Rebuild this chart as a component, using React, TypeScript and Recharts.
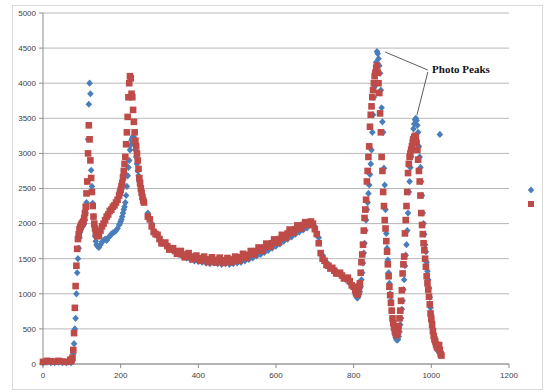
import React from "react";
import {
  ScatterChart, Scatter, XAxis, YAxis, CartesianGrid, ReferenceLine, ReferenceDot,
} from "recharts";

// channel positions, split by how dense the sampling is
const xsFlat = [0, 10, 20, 30, 40, 50, 60, 70];
const redFlat = [30, 45, 40, 35, 45, 35, 30, 60];
const blueFlat = [15, 25, 20, 20, 25, 20, 20, 30];

const xsRise = [72, 74, 76, 78, 80, 82, 84, 86, 88, 90, 92, 94, 96, 98, 100, 102, 104, 106, 108, 110,
  112, 114, 116, 118, 120, 122, 124, 126, 128, 130, 132, 134, 136, 138, 140];
const redRise = [40, 60, 90, 200, 440, 800, 1110, 1400, 1640, 1780, 1850, 1920, 1950, 1980, 2000, 2010, 2030, 2080, 2150, 2240,
  2430, 2600, 3000, 3400, 3200, 2900, 2650, 2450, 2250, 2100, 2000, 1930, 1880, 1840, 1820];
const blueRise = [20, 30, 60, 150, 290, 500, 650, 1000, 1300, 1500, 1650, 1800, 1880, 1920, 1950, 1960, 1980, 2000, 2050, 2150,
  2300, 2600, 3200, 3700, 4000, 3850, 2760, 2530, 2290, 2100, 1950, 1820, 1750, 1700, 1680];

const xsBack = [144, 148, 152, 156, 160, 164, 168, 172, 176, 180, 184, 188, 192];
const redBack = [1830, 1900, 1960, 2000, 2050, 2100, 2130, 2180, 2200, 2240, 2260, 2300, 2340];
const blueBack = [1660, 1700, 1740, 1760, 1780, 1760, 1800, 1820, 1850, 1870, 1880, 1900, 1930];

const xsPeak = [196, 198, 200, 202, 204, 206, 208, 210, 212, 214, 216, 218, 220, 222, 224, 226, 228, 230, 232, 234,
  236, 238, 240, 242, 244, 246, 248, 250, 252, 254, 256, 258, 260];
const redPeak = [2400, 2440, 2480, 2530, 2580, 2660, 2750, 2850, 2950, 3130, 3300, 3520, 3800, 4000, 4100, 4070, 3850, 3800, 3620, 3450,
  3300, 3180, 3100, 3000, 2900, 2780, 2650, 2580, 2500, 2440, 2380, 2330, 2300];
const bluePeak = [1980, 2000, 2030, 2060, 2100, 2150, 2200, 2240, 2300, 2400, 2530, 2680, 2800, 2900, 3050, 3120, 3190, 3220, 3240, 3230,
  3200, 3050, 2950, 2850, 2750, 2680, 2600, 2540, 2480, 2440, 2400, 2360, 2320];

const xsMid = [270, 280, 290, 300, 310, 320, 330, 340, 350, 360, 370, 380, 390, 400, 410, 420, 430, 440, 450, 460,
  470, 480, 490, 500, 510, 520, 530, 540, 550, 560, 570, 580, 590, 600, 610, 620, 630, 640, 650, 660,
  670, 680, 690, 700, 710, 720, 730, 740, 750, 760, 770, 780, 790, 800];
const redMid = [2100, 1960, 1850, 1780, 1720, 1680, 1640, 1610, 1590, 1560, 1550, 1530, 1510, 1505, 1500, 1490, 1480, 1485, 1475, 1480,
  1470, 1480, 1490, 1495, 1520, 1540, 1555, 1580, 1610, 1630, 1660, 1690, 1720, 1750, 1780, 1820, 1860, 1890, 1920, 1950,
  1980, 2000, 2030, 1920, 1720, 1500, 1410, 1360, 1330, 1290, 1260, 1220, 1180, 1100];
const blueMid = [2150, 2000, 1880, 1800, 1730, 1680, 1640, 1600, 1560, 1530, 1510, 1490, 1470, 1460, 1450, 1440, 1430, 1440, 1430, 1420,
  1430, 1420, 1430, 1440, 1450, 1470, 1490, 1510, 1540, 1560, 1590, 1620, 1650, 1680, 1710, 1750, 1780, 1810, 1850, 1880,
  1910, 1940, 1980, 1960, 1800, 1550, 1450, 1380, 1340, 1300, 1250, 1200, 1150, 1080];

// in-between red channels (the band is noisy)
const xsMidOdd = [275, 285, 295, 305, 315, 325, 335, 345, 355, 365, 375, 385, 395, 405, 415, 425, 435, 445, 455, 465,
  475, 485, 495, 505, 515, 525, 535, 545, 555, 565, 575, 585, 595, 605, 615, 625, 635, 645, 655, 665,
  675, 685, 695, 705, 715, 725, 735, 745, 755, 765, 775, 785, 795];
const redMidOdd = [2060, 1880, 1840, 1720, 1730, 1630, 1650, 1570, 1610, 1520, 1580, 1490, 1545, 1470, 1530, 1450, 1520, 1445, 1515, 1440,
  1510, 1450, 1530, 1470, 1570, 1510, 1610, 1560, 1660, 1610, 1715, 1670, 1775, 1730, 1840, 1800, 1915, 1870, 1975, 1930,
  2020, 1980, 2000, 1850, 1580, 1470, 1400, 1370, 1290, 1300, 1220, 1230, 1120];

const xsPeaks = [804, 806, 808, 810, 812, 814, 816, 818, 820, 822,
  824, 826, 828, 830, 832, 834, 836, 838, 840, 842,
  844, 846, 848, 850, 852, 854, 856, 858, 860, 862,
  864, 866, 868, 870, 872, 874, 876, 878, 880, 882,
  884, 886, 888, 890, 892, 894, 896, 898, 900, 902,
  904, 906, 908, 910, 912, 914, 916, 918, 920, 922,
  924, 926, 928, 930, 932, 934, 936, 938, 940, 942,
  944, 946, 948, 950, 952, 954, 956, 958, 960, 962,
  964, 966, 968, 970, 972, 974, 976, 978, 980, 982,
  984, 986, 988, 990, 992, 994, 996, 998, 1000, 1002,
  1004, 1006, 1008, 1010, 1012, 1014, 1016, 1018, 1020, 1022,
  1024, 1026];
const redPeaks = [1050, 1020, 1000, 990, 1030, 1100, 1150, 1300, 1450, 1560,
  1700, 1900, 2080, 2200, 2340, 2600, 2750, 2950, 3100, 3380,
  3550, 3670, 3800, 3900, 4000, 4100, 4150, 4220, 4250, 4150,
  4000, 3860, 3570, 3300, 2950, 2750, 2450, 2250, 2050, 1930,
  1750, 1600, 1420, 1250, 1100, 980, 870, 760, 650, 580,
  520, 470, 440, 410, 420, 460, 540, 650, 760, 900,
  1050, 1290, 1420, 1530, 1860, 2050, 2250, 2450, 2720, 2850,
  2950, 3000, 3050, 3100, 3160, 3200, 3230, 3250, 3220, 3150,
  3050, 2910, 2750, 2600, 2400, 2150, 1980, 1850, 1720, 1620,
  1500, 1385, 1250, 1150, 1060, 960, 850, 720, 640, 560,
  470, 400, 350, 320, 280, 250, 230, 260, 270, 200,
  140, 120];
const bluePeaks = [1010, 980, 950, 940, 960, 990, 1030, 1100, 1200, 1300,
  1440, 1580, 1720, 1900, 2050, 2200, 2300, 2430, 2550, 2700,
  2850, 3050, 3300, 3550, 3800, 3950, 4150, 4300, 4450, 4420,
  4350, 4250, 4140, 3900, 3650, 3450, 3300, 2790, 2550, 2200,
  1860, 1650, 1480, 1300, 1150, 1000, 900, 760, 650, 560,
  480, 420, 380, 350, 340, 350, 390, 460, 560, 650,
  780, 900, 1060, 1200, 1400, 1550, 1700, 1900, 2150, 2450,
  2600, 2800, 2950, 3100, 3230, 3350, 3420, 3480, 3500, 3470,
  3400, 3300, 3100, 2950, 2800, 2600, 2400, 2150, 2000, 1850,
  1700, 1600, 1450, 1320, 1200, 1080, 950, 800, 700, 600,
  500, 430, 370, 300, 260, 230, 200, 180, 170, 150,
  140, 130];

const blueStrayX = [1022];
const blueStrayY = [3270];

const xTicks = [0, 200, 400, 600, 800, 1000, 1200];
const yTicks = [0, 500, 1000, 1500, 2000, 2500, 3000, 3500, 4000, 4500, 5000];

const BLUE = "#4a7ebb";
const RED = "#be4b48";

const allX = [...xsFlat, ...xsRise, ...xsBack, ...xsPeak, ...xsMid, ...xsPeaks];
const allRed = [...redFlat, ...redRise, ...redBack, ...redPeak, ...redMid, ...redPeaks];
const allBlue = [...blueFlat, ...blueRise, ...blueBack, ...bluePeak, ...blueMid, ...bluePeaks];

const redData = [
  ...allX.map((x, i) => ({ x, y: allRed[i] })),
  ...xsMidOdd.map((x, i) => ({ x, y: redMidOdd[i] })),
];
const blueData = [
  ...allX.map((x, i) => ({ x, y: allBlue[i] })),
  ...blueStrayX.map((x, i) => ({ x, y: blueStrayY[i] })),
];

const Diamond = (props: any) => {
  const { cx, cy } = props;
  if (cx == null || cy == null) return null;
  return <path d={`M${cx},${cy - 3.6}L${cx + 3.3},${cy}L${cx},${cy + 3.6}L${cx - 3.3},${cy}Z`} fill={BLUE} />;
};

const Square = (props: any) => {
  const { cx, cy } = props;
  if (cx == null || cy == null) return null;
  return <rect x={cx - 3.3} y={cy - 3.3} width={6.6} height={6.6} fill={RED} />;
};

const tickStyle = { fill: "#404040", fontSize: 8, fontFamily: "Liberation Sans, Arial, sans-serif" };

export default function App() {
  return (
    <div style={{ position: "absolute", left: 0, top: 0, width: 551, height: 392, background: "#fff" }}>
      <div style={{ position: "absolute", left: 12, top: 5, width: 529, height: 383, border: "1px solid #d9d9d9" }} />
      <div style={{ position: "absolute", left: 0, top: 0 }}>
        <ScatterChart width={551} height={392} margin={{ top: 13, right: 42, bottom: 8, left: 0 }}>
          <CartesianGrid vertical={false} stroke="#b8b8b8" />
          <XAxis
            type="number" dataKey="x" domain={[0, 1200]} ticks={xTicks} height={20}
            axisLine={{ stroke: "#8c8c8c" }} tickLine={{ stroke: "#8c8c8c" }} tickSize={4} tickMargin={4}
            tick={tickStyle}
          />
          <YAxis
            type="number" dataKey="y" domain={[0, 5000]} ticks={yTicks} width={43}
            axisLine={{ stroke: "#8c8c8c" }} tickLine={{ stroke: "#8c8c8c" }} tickSize={4} tickMargin={3}
            tick={tickStyle}
          />
          <Scatter data={blueData} shape={<Diamond />} isAnimationActive={false} />
          <Scatter data={redData} shape={<Square />} isAnimationActive={false} />
          <ReferenceLine segment={[{ x: 881, y: 4444 }, { x: 991, y: 4188 }]} stroke="#333" strokeWidth={0.8} ifOverflow="visible" />
          <ReferenceLine segment={[{ x: 991, y: 4160 }, { x: 963, y: 3547 }]} stroke="#333" strokeWidth={0.8} ifOverflow="visible" />
          <ReferenceDot
            x={989} y={4200} r={0} fill="none" stroke="none" ifOverflow="visible"
            label={{ value: "Photo Peaks", position: "right", offset: 5, fill: "#111", fontSize: 11, fontWeight: "bold", fontFamily: "Liberation Serif, Times New Roman, serif" }}
          />
        </ScatterChart>
      </div>
      <svg style={{ position: "absolute", left: 524, top: 183 }} width={16} height={28}>
        <path d="M7,3.5L10.2,7L7,10.5L3.8,7Z" fill={BLUE} />
        <rect x={4} y={18} width={6} height={6} fill={RED} />
      </svg>
    </div>
  );
}
